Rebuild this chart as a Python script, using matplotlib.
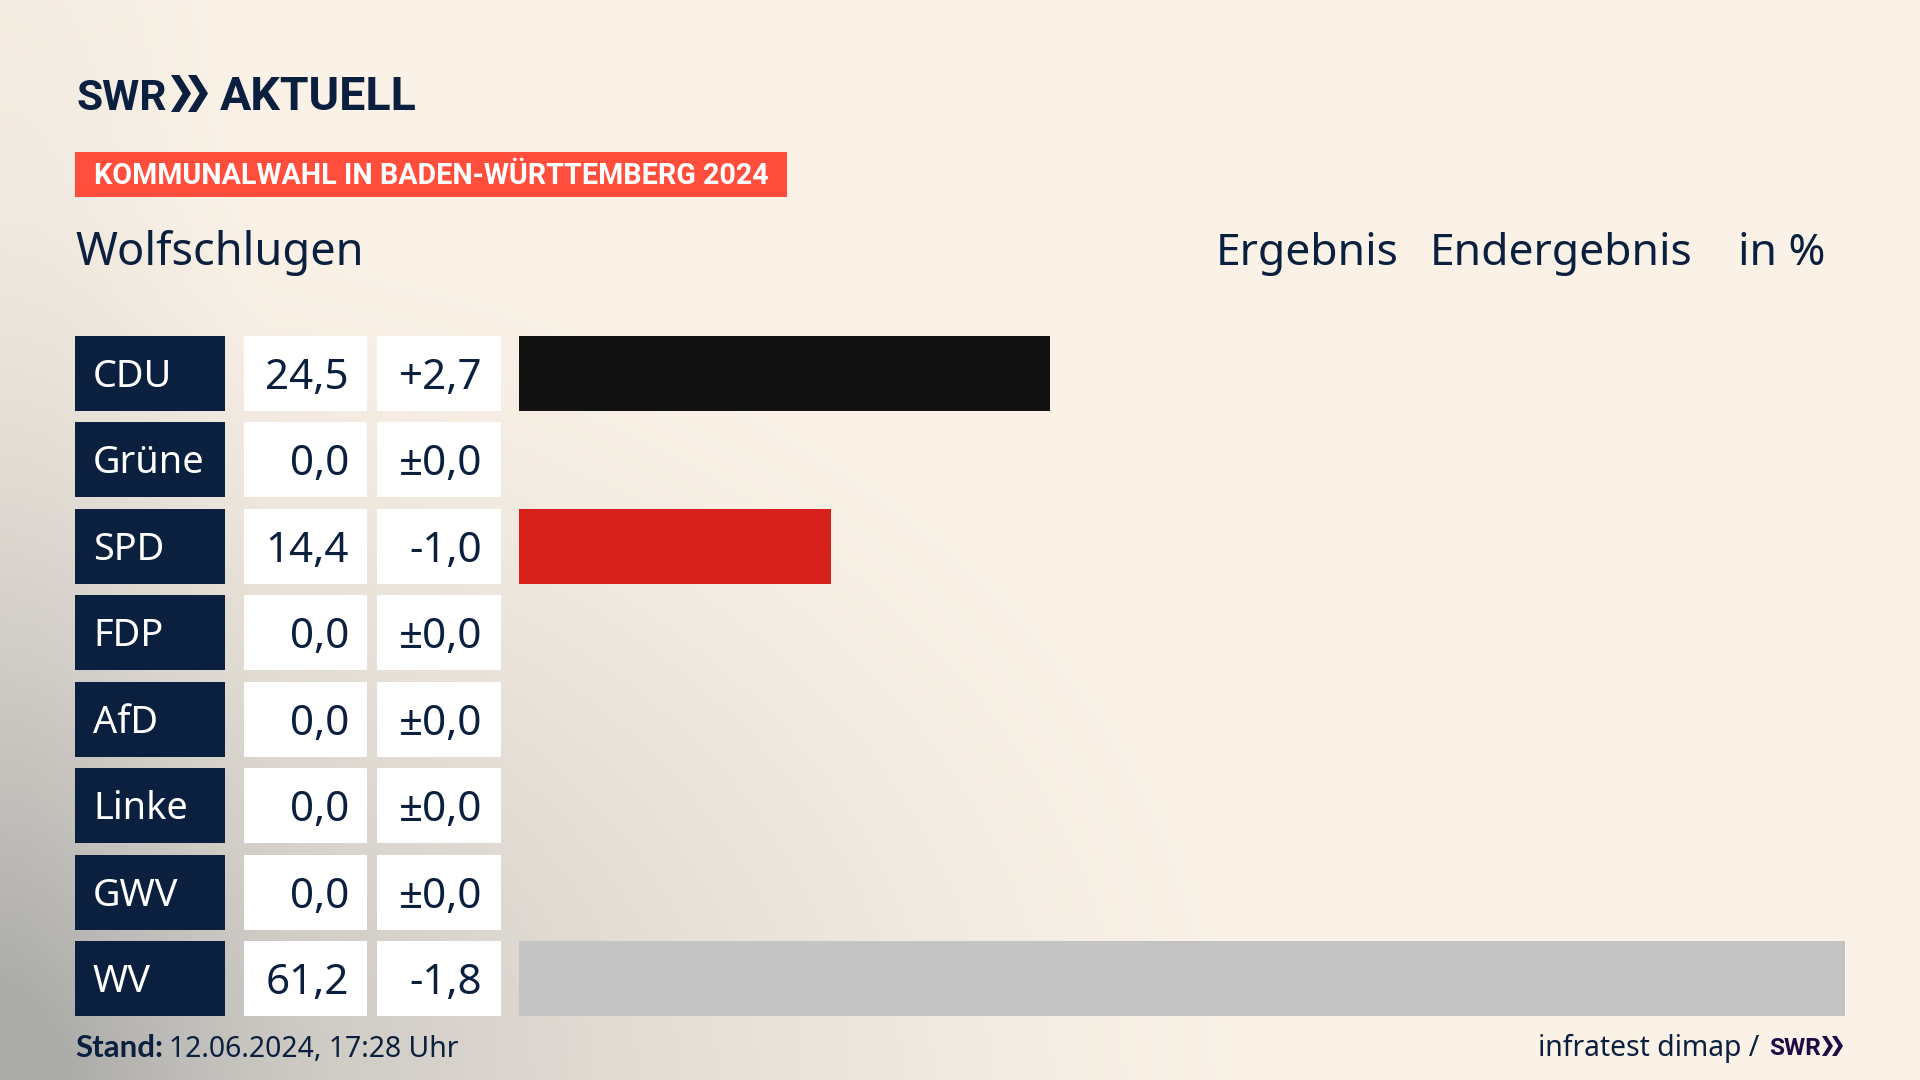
#!/usr/bin/env python3
# Kommunalwahl Wolfschlugen, SWR Balkengrafik
import numpy as np
import matplotlib
matplotlib.use("Agg")
import matplotlib.pyplot as plt
from matplotlib.patches import Rectangle, Polygon

parties = ["CDU", "Grüne", "SPD", "FDP", "AfD", "Linke", "GWV", "WV"]
results = [24.5, 0.0, 14.4, 0.0, 0.0, 0.0, 0.0, 61.2]
result_labels = ["24,5", "0,0", "14,4", "0,0", "0,0", "0,0", "0,0", "61,2"]
diff_labels = ["+2,7", "±0,0", "-1,0", "±0,0", "±0,0", "±0,0", "±0,0", "-1,8"]
bar_colors = ["#121212", "#1a9a3c", "#d7201c", "#f5d000", "#1f9ad6", "#b01c6a", "#c4c4c4", "#c4c4c4"]

navy = "#0b1f3f"
W, H = 1920, 1080
row_top, row_step, row_h = 336, 86.45, 75
sans = ["Noto Sans", "DejaVu Sans"]
heavy = ["Roboto", "DejaVu Sans"]

fig = plt.figure(figsize=(19.2, 10.8), dpi=100)

# pixel axes, y runs downwards like in the picture
ax = fig.add_axes([0, 0, 1, 1])
ax.set_xlim(0, W)
ax.set_ylim(H, 0)
ax.axis("off")

# hintergrund: creme, grau nach unten links
xx, yy = np.meshgrid(np.linspace(0, W, 480), np.linspace(0, H, 270))
d1 = np.sqrt((xx / 1300.0) ** 2 + ((H - yy) / 900.0) ** 2)
d2 = np.sqrt((xx / 300.0) ** 2 + ((H - yy) / 1700.0) ** 2)
t = np.clip(1 - d1, 0, 1) ** 1.5 * 0.85 + np.clip(1 - d2, 0, 1) ** 1.3 * 0.3
t = np.clip(t, 0, 1)[..., None]
cream = np.array([0xfa, 0xf2, 0xe7]) / 255.0
grey = np.array([0xac, 0xac, 0xaa]) / 255.0
ax.imshow(cream * (1 - t) + grey * t, extent=(0, W, H, 0), aspect="auto", zorder=0)
ax.set_xlim(0, W)
ax.set_ylim(H, 0)


def chevrons(x, top, bottom, w, gap, color):
    mid = (top + bottom) / 2.0
    for i in range(2):
        x0 = x + i * gap
        thick = w * 0.42
        ax.add_patch(Polygon([(x0, top), (x0 + thick, top), (x0 + w, mid),
                              (x0 + thick, bottom), (x0, bottom), (x0 + w - thick, mid)],
                             closed=True, fc=color, ec="none", zorder=3))


# kopf
ax.text(76, 110, "SWR", family=heavy, weight="bold", fontsize=30.5, color=navy, va="baseline")
chevrons(171, 75, 112, 20, 17, navy)
ax.text(220, 110, "AKTUELL", family=heavy, weight="bold", fontsize=33.5, color=navy, va="baseline")

ax.add_patch(Rectangle((75, 152), 712, 45, fc="#ff4f3c", ec="none", zorder=2))
ax.text(94, 184, "KOMMUNALWAHL IN BADEN-WÜRTTEMBERG 2024", family=heavy, weight="bold",
        fontsize=20.6, color="white", va="baseline", zorder=3)

ax.text(75, 265, "Wolfschlugen", family=sans, fontsize=32.5, color=navy, va="baseline")
ax.text(1216, 265, "Ergebnis", family=sans, fontsize=32, color=navy, va="baseline")
ax.text(1430, 265, "Endergebnis", family=sans, fontsize=32, color=navy, va="baseline")
ax.text(1825, 265, "in %", family=sans, fontsize=32, color=navy, va="baseline", ha="right")

# tabelle links
for i, party in enumerate(parties):
    top = row_top + i * row_step
    ax.add_patch(Rectangle((75, top), 150, row_h, fc=navy, ec="none", zorder=2))
    ax.add_patch(Rectangle((244, top), 123, row_h, fc="white", ec="none", zorder=2))
    ax.add_patch(Rectangle((377, top), 124, row_h, fc="white", ec="none", zorder=2))
    base = top + 53
    ax.text(93, base - 2, party, family=sans, fontsize=27.3, color="white", va="baseline", zorder=3)
    ax.text(349, base, result_labels[i], family=sans, fontsize=30.3, color=navy,
            va="baseline", ha="right", zorder=3)
    ax.text(482, base, diff_labels[i], family=sans, fontsize=30.3, color=navy,
            va="baseline", ha="right", zorder=3)

# fuss
ax.text(75, 1057, "Stand:", family=["Lato", "DejaVu Sans"], weight="bold", fontsize=22.5, color=navy, va="baseline")
ax.text(169, 1057, "12.06.2024, 17:28 Uhr", family=sans, fontsize=20.4, color=navy, va="baseline")
ax.text(1759, 1056, "infratest dimap /", family=sans, fontsize=20.4, color=navy, va="baseline", ha="right")
ax.text(1769, 1055, "SWR", family=heavy, weight="bold", fontsize=17.5, color="#1f0a45", va="baseline")
chevrons(1822, 1036, 1056, 11, 10, "#1f0a45")

# balken
y_pos = np.arange(len(parties))
bar_left = 519 / W
bar_bottom = 1 - (row_top + 7 * row_step + row_h) / H
bar_w = (1845 - 519) / W
bar_h = (7 * row_step + row_h) / H
ax2 = fig.add_axes([bar_left, bar_bottom, bar_w, bar_h])
ax2.patch.set_alpha(0)
ax2.barh(y_pos, results, height=row_h / row_step, color=bar_colors)
ax2.set_xlim(0, max(results))
ax2.set_ylim(7 + 0.5 * row_h / row_step, -0.5 * row_h / row_step)
ax2.axis("off")

fig.savefig("out.png", dpi=100)
